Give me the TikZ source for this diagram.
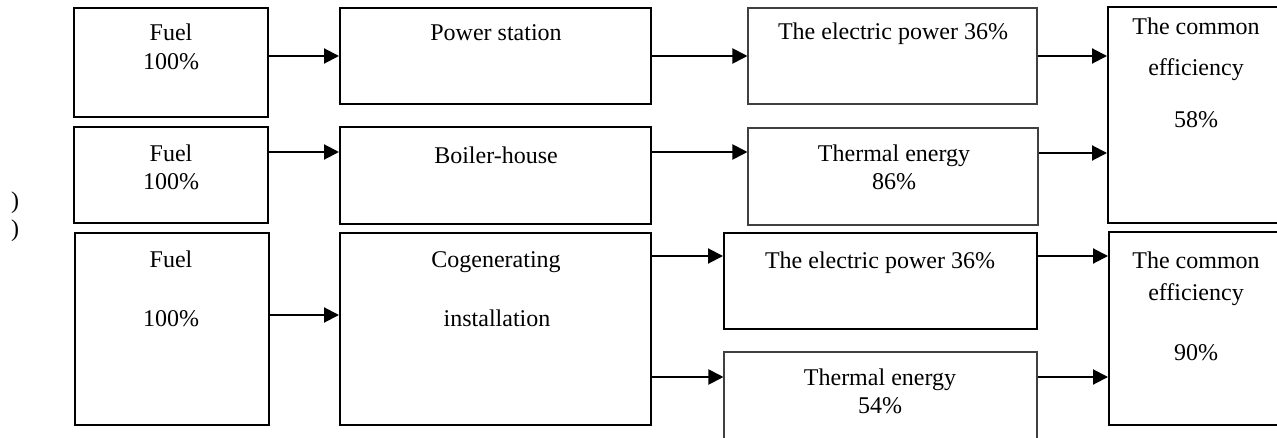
\documentclass[tikz,border=0pt]{standalone}
\usepackage{fontspec}
\setmainfont{Liberation Serif}
\usetikzlibrary{arrows.meta,fit}
\begin{document}
\begin{tikzpicture}[x=0.5pt,y=-0.5pt,
  thickbox/.style={draw=black,line width=1pt,inner sep=0pt,fit={#1}},
  thinbox/.style={draw=black!75,line width=0.55pt,inner sep=0pt,fit={#1}},
  lbl/.style={anchor=base,inner sep=0pt,font=\fontsize{12}{14}\selectfont},
  arr/.style={line width=1pt,-{Triangle[length=7.5pt,width=7.5pt]}}]
\useasboundingbox (0,0) rectangle (1277,438);
\clip (0,0) rectangle (1277,438);
% boxes
\node[thickbox={(74,8) (268,117)}] (f1) {};
\node[thickbox={(340,8) (651,104)}] (ps) {};
\node[thinbox={(748,8) (1037,104)}] (e1) {};
\node[thickbox={(1108,7) (1295,223)}] (c1) {};
\node[thickbox={(74,127) (268,223)}] (f2) {};
\node[thickbox={(340,127) (651,224)}] (bh) {};
\node[thinbox={(748,128) (1038,225)}] (t1) {};
\node[thickbox={(75,233) (269,425)}] (f3) {};
\node[thickbox={(340,233) (651,425)}] (cg) {};
\node[thickbox={(724,233) (1037,329)}] (e3) {};
\node[thinbox={(724,352) (1037,455)}] (t3) {};
\node[thickbox={(1109,232) (1295,425)}] (c3) {};
% texts
\node[lbl] (f1a) at (171,41) {Fuel};
\node[lbl] (f1b) at (171,70) {100\%};
\node[lbl] (psa) at (496,41) {Power station};
\node[lbl] (e1a) at (893,40) {The electric power 36\%};
\node[lbl] (c1a) at (1196,35) {The common};
\node[lbl] (c1b) at (1196,76) {efficiency};
\node[lbl] (c1c) at (1196,128) {58\%};
\node[lbl] (f2a) at (171,162) {Fuel};
\node[lbl] (f2b) at (171,190) {100\%};
\node[lbl] (bha) at (496,163) {Boiler-house};
\node[lbl] (t1a) at (894,162) {Thermal energy};
\node[lbl] (t1b) at (894,190) {86\%};
\node[lbl] (f3a) at (171,267) {Fuel};
\node[lbl] (f3b) at (171,326) {100\%};
\node[lbl] (cga) at (496,267) {Cogenerating};
\node[lbl] (cgb) at (497,326) {installation};
\node[lbl] (e3a) at (880,268) {The electric power 36\%};
\node[lbl] (t3a) at (880,385) {Thermal energy};
\node[lbl] (t3b) at (880,413) {54\%};
\node[lbl] (c3a) at (1196,268) {The common};
\node[lbl] (c3b) at (1196,300) {efficiency};
\node[lbl] (c3c) at (1196,360) {90\%};
\node[lbl] (p1) at (15,208) {)};
\node[lbl] (p2) at (15,236) {)};
% arrows
\draw[arr] (f1.east |- 0,56) -- (ps.west |- 0,56);
\draw[arr] (ps.east |- 0,56) -- (e1.west |- 0,56);
\draw[arr] (e1.east |- 0,56) -- (c1.west |- 0,56);
\draw[arr] (f2.east |- 0,152) -- (bh.west |- 0,152);
\draw[arr] (bh.east |- 0,152) -- (t1.west |- 0,152);
\draw[arr] (t1.east |- 0,153) -- (c1.west |- 0,153);
\draw[arr] (f3.east |- 0,315) -- (cg.west |- 0,315);
\draw[arr] (cg.east |- 0,256) -- (e3.west |- 0,256);
\draw[arr] (cg.east |- 0,377) -- (t3.west |- 0,377);
\draw[arr] (e3.east |- 0,256) -- (c3.west |- 0,256);
\draw[arr] (t3.east |- 0,377) -- (c3.west |- 0,377);
\end{tikzpicture}
\end{document}
